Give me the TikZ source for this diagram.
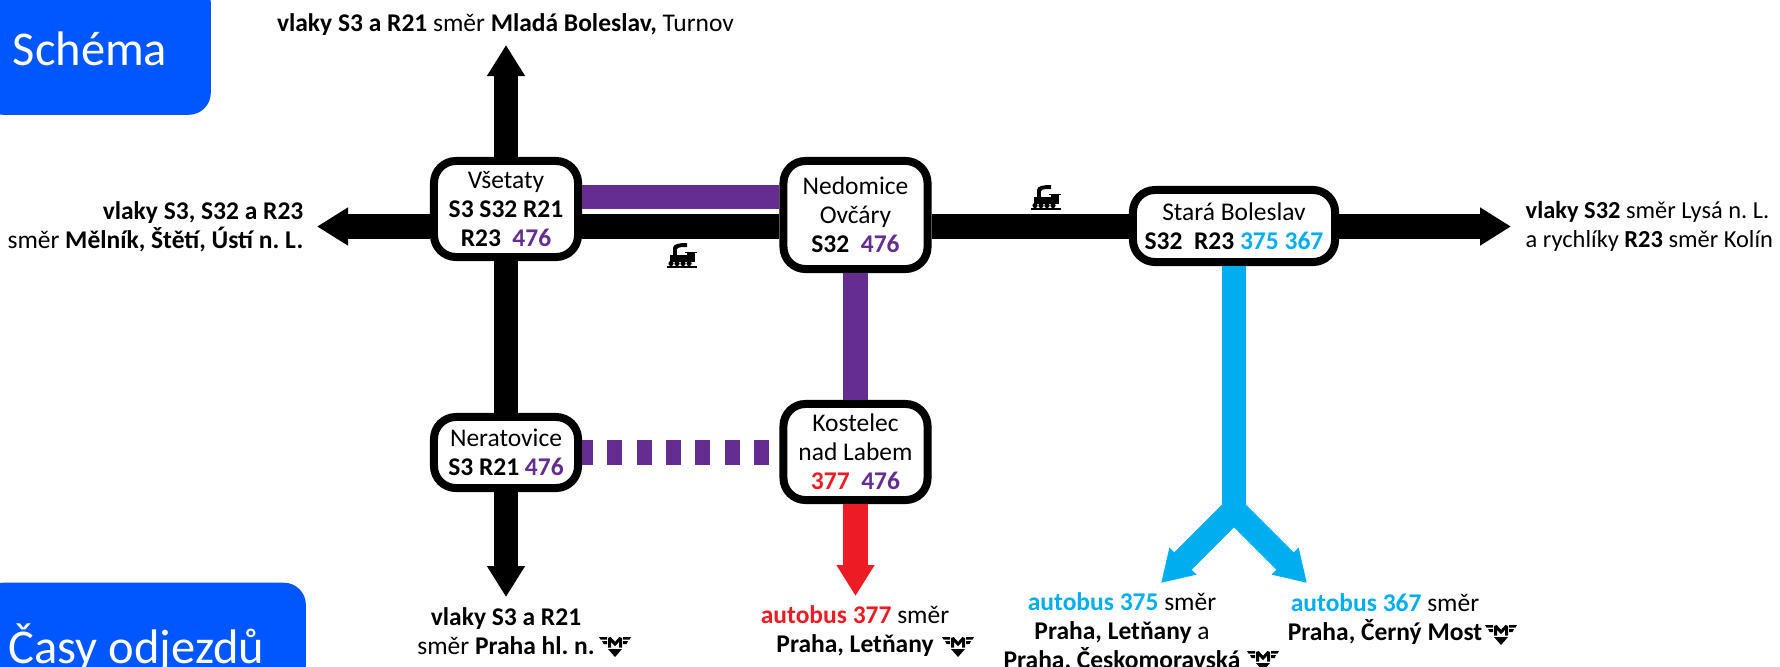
\documentclass[tikz,border=0pt]{standalone}
\usepackage{fontspec}
\usepackage{xcolor}
\usetikzlibrary{arrows.meta}
\setmainfont{Carlito}
\definecolor{tabblue}{HTML}{0057FF}
\definecolor{linepurple}{HTML}{662D91}
\definecolor{linered}{HTML}{ED1C24}
\definecolor{lineblue}{HTML}{00AEEF}
\newcommand{\pur}[1]{\textcolor{linepurple}{#1}}
\newcommand{\blu}[1]{\textcolor{lineblue}{#1}}
\newcommand{\rd}[1]{\textcolor{linered}{#1}}

\begin{document}
\frenchspacing
\begin{tikzpicture}[
    x=0.01cm, y=-0.01cm,
    every node/.style={font=\fontsize{7.25}{8.25}\selectfont, inner sep=0pt},
    station/.style={draw, line width=.08cm, rounded corners=.22cm, fill=white,
        align=center, minimum width=1.44cm},
    route/.style={line width=.245cm},
    route arrow/.style={route, -{Triangle[width=.36cm, length=.31cm]}},
    tab/.style={fill=tabblue, rounded corners=.22cm, anchor=north west},
    tab text/.style={text=white, font=\fontsize{13.8}{16}\selectfont},
    label/.style={align=center},
    loco/.pic={
        \fill (-14,10) rectangle (16,12);
        \foreach \wx in {-10,-4,2,8} {\fill (\wx,7.5) circle (2.6);}
        \fill (-11,-1) rectangle (14,5.5);
        \fill (6,-3) rectangle (14,5);
        \fill (4,-4.5) rectangle (16,-3);
        \fill (-8,-8) rectangle (-4,-1);
        \fill (-8,-8) .. controls (-8,-12) and (-2,-13) .. (6,-13)
            -- (6,-9) .. controls (1,-9) and (-3,-9) .. (-4,-7) -- cycle;
    },
    metro/.pic={
        \fill (-7,3) -- (7,3) -- (0,11) -- cycle;
        \fill (-16,-9) -- (-8,-9) -- (-8,-6.5) -- (-14.5,-6.5) -- cycle;
        \fill (16,-9) -- (8,-9) -- (8,-6.5) -- (14.5,-6.5) -- cycle;
        \fill (-13,-5) -- (-8,-5) -- (-8,-2) -- (-11.5,-2) -- cycle;
        \fill (13,-5) -- (8,-5) -- (8,-2) -- (11.5,-2) -- cycle;
        \draw[line width=.03cm, miter limit=2] (-5.5,1.5) -- (-5.5,-8) -- (0,-2) -- (5.5,-8) -- (5.5,1.5);
    }
    ]
    \useasboundingbox (0,0) rectangle (1780,666);
    % Tabs
    \node[tab, minimum width=2.3cm, minimum height=1.34cm] (schemaTab) at (-20,-20) {};
    \node[tab text] (schemaText) at (90,49) {Schéma};
    \node[tab, minimum width=3.25cm, minimum height=1.2cm] (odjezdyTab) at (-20,582) {};
    \node[tab text, anchor=base west] (odjezdyText) at (8,663) {Časy odjezdů};
    % Stations
    \node[station, minimum height=.96cm] (vsetaty) at (506,209)
        {Všetaty\\\textbf{S3 S32 R21}\\\textbf{R23 \ \pur{476}}};
    \node[station, minimum height=1.08cm] (nedomice) at (855.5,215)
        {Nedomice\\Ovčáry\\\textbf{S32 \ \pur{476}}};
    \node[station, minimum width=2.02cm, minimum height=.72cm] (stara) at (1234,226)
        {Stará Boleslav\\\textbf{S32 \ R23 \blu{375 367}}};
    \node[station, minimum height=.71cm] (neratovice) at (506,452.5)
        {Neratovice\\\textbf{S3 R21 \pur{476}}};
    \node[station, minimum height=.96cm] (kostelec) at (855.5,452)
        {Kostelec\\nad Labem\\\textbf{\rd{377} \ \pur{476}}};
    % Arrow ends
    \coordinate (tipNorth) at (506,45);
    \coordinate (tipSouth) at (506,597);
    \coordinate (tipWest) at (317,226.5);
    \coordinate (tipEast) at (1511,226.5);
    \coordinate (tipBus) at (855.5,596);
    \coordinate (fork) at (1234,510);
    \coordinate (tipLeft) at (1161,583);
    \coordinate (tipRight) at (1307,583);
    % Trains
    \draw[route arrow] (vsetaty.north) -- (tipNorth);
    \draw[route] (vsetaty.south) -- (neratovice.north);
    \draw[route arrow] (neratovice.south) -- (tipSouth);
    \draw[route arrow] (vsetaty.west |- tipWest) -- (tipWest);
    \draw[route] (vsetaty.east |- tipWest) -- (nedomice.west |- tipWest);
    \draw[route] (nedomice.east |- tipWest) -- (stara.west |- tipWest);
    \draw[route arrow] (stara.east |- tipWest) -- (tipEast);
    % Buses
    \draw[route, linepurple] (vsetaty.east |- 0,197) -- (nedomice.west |- 0,197);
    \draw[route, linepurple] (nedomice.south) -- (kostelec.north);
    \draw[route, linepurple, dash pattern=on .15cm off .1428cm, dash phase=.04cm]
        (neratovice.east) -- (kostelec.west |- neratovice.east);
    \draw[route arrow, linered] (kostelec.south) -- (tipBus);
    \draw[route, lineblue] (stara.south) -- (fork);
    \draw[route arrow, lineblue] (fork) -- (tipLeft);
    \draw[route arrow, lineblue] (fork) -- (tipRight);
    % Labels
    \node (labNorth) at (505.5,25) {\textbf{vlaky S3 a R21} směr \textbf{Mladá Boleslav,} Turnov};
    \node[label, align=right, anchor=east] (labWest) at (304,226.5)
        {\textbf{vlaky S3, S32 a R23}\\směr \textbf{Mělník, Štětí, Ústí n. L.}};
    \node[label, align=left, anchor=west, font=\fontsize{6.95}{8.25}\selectfont] (labEast) at (1525,226.5)
        {\textbf{vlaky S32} směr Lysá n. L.\\a rychlíky \textbf{R23} směr Kolín};
    \node[label] (labPraha) at (506,631)
        {\textbf{vlaky S3 a R21}\\směr \textbf{Praha hl. n.}};
    \node[label] (labLetnany) at (855,631.5)
        {\textbf{\rd{autobus 377}} směr\\\textbf{Praha, Letňany}};
    \node[label] (labCesko) at (1122,632)
        {\textbf{\blu{autobus 375}} směr\\\textbf{Praha, Letňany} a\\\textbf{Praha, Českomoravská}};
    \node[label] (labMost) at (1385,619)
        {\textbf{\blu{autobus 367}} směr\\\textbf{Praha, Černý Most}};
    % Icons
    \pic at (681,256) {loco};
    \pic at (1045,198) {loco};
    \pic at (615,646) {metro};
    \pic at (958,646) {metro};
    \pic at (1263,660) {metro};
    \pic at (1501,634) {metro};
\end{tikzpicture}
\end{document}
